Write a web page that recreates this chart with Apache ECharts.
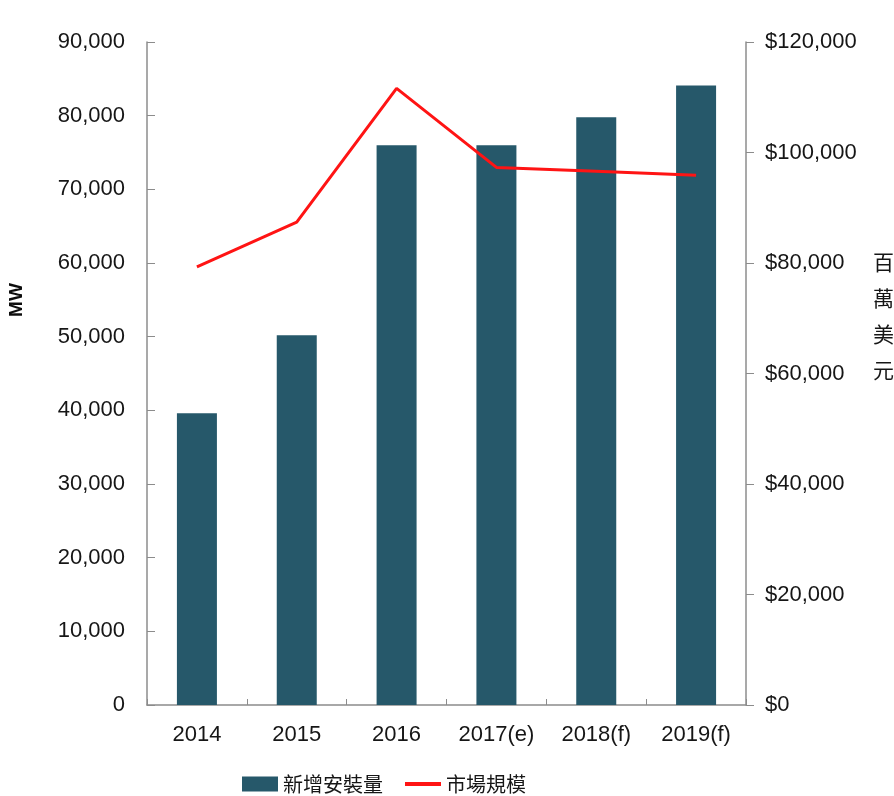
<!DOCTYPE html>
<html>
<head>
<meta charset="utf-8">
<title>新增安裝量與市場規模</title>
<script src="https://cdn.jsdelivr.net/npm/echarts@6/dist/echarts.min.js"></script>
<style>
    html, body { margin: 0; padding: 0; background: #fff; }
    #Combo { width: 894px; height: 796px; }
</style>
</head>
<body>
<div id="Combo"></div>
<script>
// 数据
var years = ['2014', '2015', '2016', '2017(e)', '2018(f)', '2019(f)'];
var installMW = [39600, 50200, 76000, 76000, 79800, 84100];      // 新增安裝量 (MW)
var marketSize = [79300, 87400, 111600, 97300, 96600, 95900];    // 市場規模 (百萬美元)
var leftTicks = { min: 0, max: 90000, interval: 10000 };
var rightTicks = { min: 0, max: 120000, interval: 20000 };

var barColor = '#26586a';
var lineColor = '#ff1414';
var labelFont = '"Liberation Sans", Arial, sans-serif';
var textColor = '#161616';

function fmt(v) {
    return String(v).replace(/\B(?=(\d{3})+(?!\d))/g, ',');
}

function ComboChart(name, bars, line) {
    var myChart = echarts.init(document.getElementById('Combo'));
    var axisLine = { show: true, lineStyle: { color: '#8c8c8c', width: 1.5 } };
    var option = {
        animation: false,
        grid: { left: 147, right: 148, top: 42, bottom: 91 },
        legend: {
            left: 237,
            top: 769,
            itemWidth: 36,
            itemHeight: 15,
            itemGap: 20,
            textStyle: { fontSize: 20, color: textColor, fontFamily: 'Noto Sans CJK TC' },
            data: [
                { name: '新增安裝量', icon: 'rect' },
                { name: '市場規模', itemStyle: { opacity: 0 }, lineStyle: { width: 4 } }
            ]
        },
        xAxis: {
            type: 'category',
            data: name,
            axisLine: axisLine,
            axisTick: { show: true, inside: true, length: 6, lineStyle: { color: '#8c8c8c' } },
            axisLabel: { margin: 19, fontSize: 22, color: textColor, fontFamily: labelFont }
        },
        yAxis: [
            {
                type: 'value',
                min: leftTicks.min,
                max: leftTicks.max,
                interval: leftTicks.interval,
                splitLine: { show: false },
                axisLine: axisLine,
                axisTick: { show: true, inside: true, length: 8, lineStyle: { color: '#8c8c8c' } },
                axisLabel: { margin: 22, fontSize: 22, color: textColor, fontFamily: labelFont, formatter: fmt }
            },
            {
                type: 'value',
                position: 'right',
                min: rightTicks.min,
                max: rightTicks.max,
                interval: rightTicks.interval,
                splitLine: { show: false },
                axisLine: axisLine,
                axisTick: { show: true, inside: false, length: 8, lineStyle: { color: '#8c8c8c' } },
                axisLabel: {
                    margin: 19, fontSize: 22, color: textColor, fontFamily: labelFont,
                    formatter: function (v) { return '$' + fmt(v); }
                }
            }
        ],
        // 轴标题
        graphic: [
            {
                type: 'text',
                x: 17,
                y: 300,
                rotation: Math.PI / 2,
                style: {
                    text: 'MW', fontSize: 19, fontWeight: 'bold', fill: '#0d0d0d',
                    fontFamily: labelFont, align: 'center', verticalAlign: 'middle'
                }
            },
            {
                type: 'text',
                left: 873,
                top: 244,
                style: {
                    text: '百\n萬\n美\n元', fontSize: 21, lineHeight: 36, fill: textColor,
                    fontFamily: 'Noto Sans CJK TC'
                }
            }
        ],
        series: [
            {
                name: '新增安裝量',
                type: 'bar',
                barWidth: 40,
                itemStyle: { color: barColor },
                data: bars
            },
            {
                name: '市場規模',
                type: 'line',
                yAxisIndex: 1,
                symbol: 'none',
                lineStyle: { color: lineColor, width: 3 },
                itemStyle: { color: lineColor },
                data: line
            }
        ]
    };
    myChart.setOption(option);
}

ComboChart(years, installMW, marketSize);
</script>
</body>
</html>
